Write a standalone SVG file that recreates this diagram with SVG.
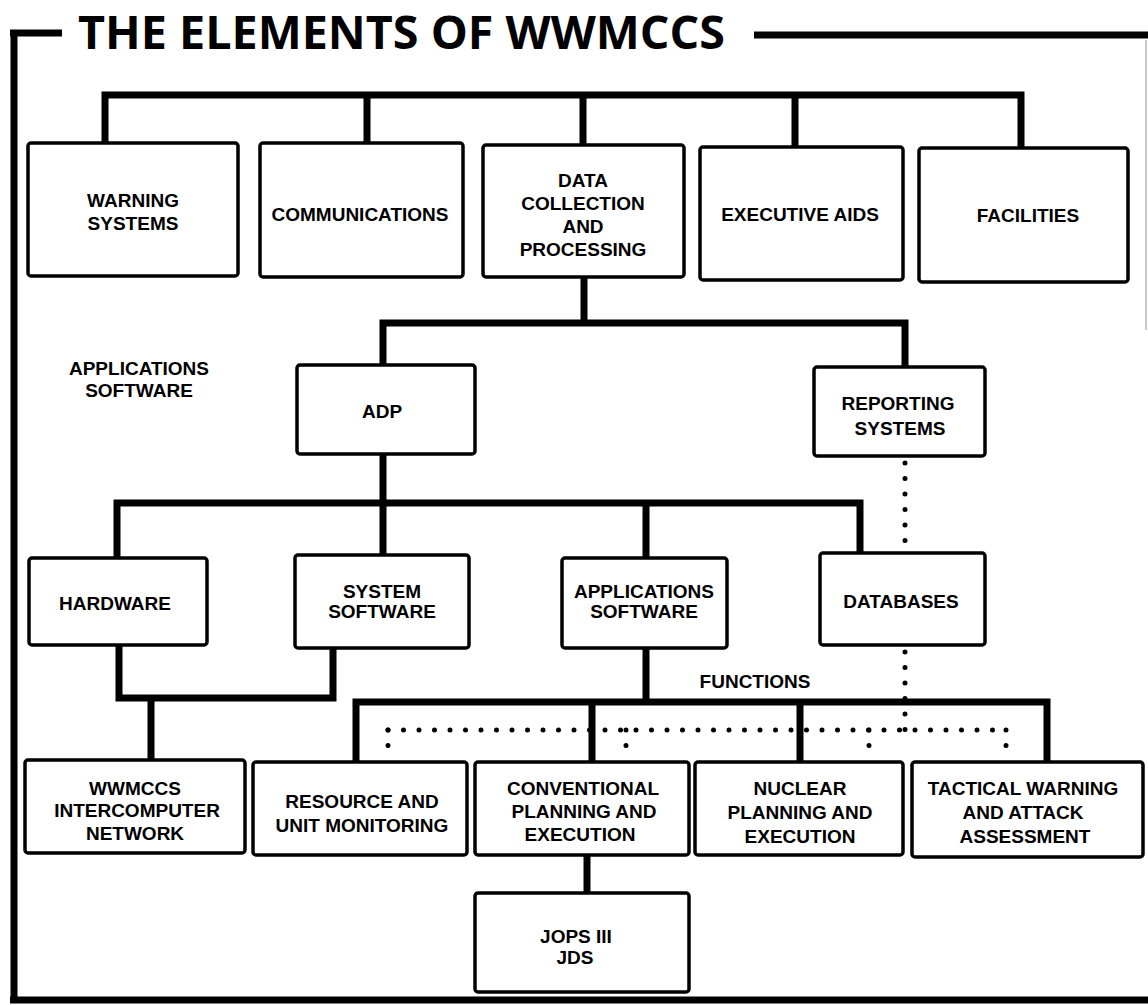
<svg xmlns="http://www.w3.org/2000/svg" width="1148" height="1005" viewBox="0 0 1148 1005">
<style>
.bg{fill:#fff}
.box{fill:#fff;stroke:#000;stroke-width:3.5}
.frame{fill:none;stroke:#000;stroke-width:7}
.conn{fill:none;stroke:#000;stroke-width:7;stroke-linejoin:miter}
.dot{fill:none;stroke:#000;stroke-width:5;stroke-linecap:round;stroke-dasharray:0 15.5}
.lbl{font-family:"Liberation Sans",Arial,sans-serif;font-weight:bold;font-size:19px;text-anchor:middle;fill:#000}
.title{font-family:"Open Sans","Liberation Sans",sans-serif;font-weight:bold;font-size:46px;fill:#000}
</style>
<rect class="bg" x="0" y="0" width="1148" height="1005"/>
<g id="frame">
<path class="frame" d="M10,33 H62 M14,30 V1003 M10,1000 H1148 M754,35 H1148"/>
<line x1="1146" y1="40" x2="1146" y2="330" stroke="#c8c8c8" stroke-width="2"/>
<text class="title" x="78" y="49" textLength="647" lengthAdjust="spacingAndGlyphs">THE ELEMENTS OF WWMCCS</text>
</g>
<g id="connectors">
<path class="conn" d="M105,143 V95 H1021 V148 M367,95 V143 M583,95 V145 M795,95 V147"/>
<path class="conn" d="M584,277 V323 M383,365 V323 H905 V367"/>
<path class="conn" d="M383,454 V503 M117,558 V503 H860 V553 M383,503 V555 M646,503 V558"/>
<path class="conn" d="M119,645 V698 H333 V648 M151,698 V760"/>
<path class="conn" d="M646,648 V702 M356,762 V702 H1047 V762 M592,702 V762 M800,702 V762"/>
<path class="conn" d="M587,855 V893"/>
<path class="dot" d="M905,463 V548"/>
<path class="dot" d="M905,652 V730"/>
<path class="dot" d="M388,730 H1006"/>
<path class="dot" d="M388,730 V760 M626,730 V760 M869,730 V760 M1006,730 V760"/>
</g>
<g id="warning-systems"><rect class="box" x="28" y="143" width="210" height="133" rx="3"/><text class="lbl" x="133" y="207">WARNING</text><text class="lbl" x="133" y="230">SYSTEMS</text></g>
<g id="communications"><rect class="box" x="260" y="143" width="203" height="134" rx="3"/><text class="lbl" x="360" y="221">COMMUNICATIONS</text></g>
<g id="data-collection"><rect class="box" x="483" y="145" width="201" height="132" rx="3"/><text class="lbl" x="583" y="187">DATA</text><text class="lbl" x="583" y="210">COLLECTION</text><text class="lbl" x="583" y="233">AND</text><text class="lbl" x="583" y="256">PROCESSING</text></g>
<g id="executive-aids"><rect class="box" x="700" y="147" width="203" height="133" rx="3"/><text class="lbl" x="800" y="221">EXECUTIVE AIDS</text></g>
<g id="facilities"><rect class="box" x="919" y="148" width="209" height="134" rx="3"/><text class="lbl" x="1028" y="222">FACILITIES</text></g>
<g id="applications-software-label"><text class="lbl" x="139" y="375">APPLICATIONS</text><text class="lbl" x="139" y="397">SOFTWARE</text></g>
<g id="adp"><rect class="box" x="297" y="365" width="178" height="89" rx="3"/><text class="lbl" x="382" y="418">ADP</text></g>
<g id="reporting-systems"><rect class="box" x="814" y="367" width="171" height="89" rx="3"/><text class="lbl" x="898" y="410">REPORTING</text><text class="lbl" x="900" y="435">SYSTEMS</text></g>
<g id="hardware"><rect class="box" x="29" y="558" width="178" height="87" rx="3"/><text class="lbl" x="115" y="610">HARDWARE</text></g>
<g id="system-software"><rect class="box" x="295" y="555" width="174" height="93" rx="3"/><text class="lbl" x="382" y="598">SYSTEM</text><text class="lbl" x="382" y="618">SOFTWARE</text></g>
<g id="applications-software"><rect class="box" x="562" y="558" width="165" height="90" rx="3"/><text class="lbl" x="644" y="598">APPLICATIONS</text><text class="lbl" x="644" y="618">SOFTWARE</text></g>
<g id="databases"><rect class="box" x="820" y="553" width="165" height="92" rx="3"/><text class="lbl" x="901" y="608">DATABASES</text></g>
<g id="functions-label"><text class="lbl" x="755" y="688">FUNCTIONS</text></g>
<g id="wwmccs-network"><rect class="box" x="25" y="760" width="220" height="93" rx="3"/><text class="lbl" x="135" y="795">WWMCCS</text><text class="lbl" x="137" y="817">INTERCOMPUTER</text><text class="lbl" x="135" y="840">NETWORK</text></g>
<g id="resource-monitoring"><rect class="box" x="253" y="762" width="214" height="93" rx="3"/><text class="lbl" x="362" y="808">RESOURCE AND</text><text class="lbl" x="362" y="832">UNIT MONITORING</text></g>
<g id="conventional"><rect class="box" x="475" y="762" width="214" height="93" rx="3"/><text class="lbl" x="583" y="795">CONVENTIONAL</text><text class="lbl" x="584" y="818">PLANNING AND</text><text class="lbl" x="580" y="841">EXECUTION</text></g>
<g id="nuclear"><rect class="box" x="695" y="762" width="208" height="93" rx="3"/><text class="lbl" x="800" y="795">NUCLEAR</text><text class="lbl" x="800" y="819">PLANNING AND</text><text class="lbl" x="800" y="843">EXECUTION</text></g>
<g id="tactical-warning"><rect class="box" x="912" y="762" width="231" height="95" rx="3"/><text class="lbl" x="1023" y="795">TACTICAL WARNING</text><text class="lbl" x="1023" y="819">AND ATTACK</text><text class="lbl" x="1025" y="843">ASSESSMENT</text></g>
<g id="jops"><rect class="box" x="475" y="893" width="214" height="99" rx="3"/><text class="lbl" x="576" y="943">JOPS III</text><text class="lbl" x="575" y="964">JDS</text></g>
</svg>
